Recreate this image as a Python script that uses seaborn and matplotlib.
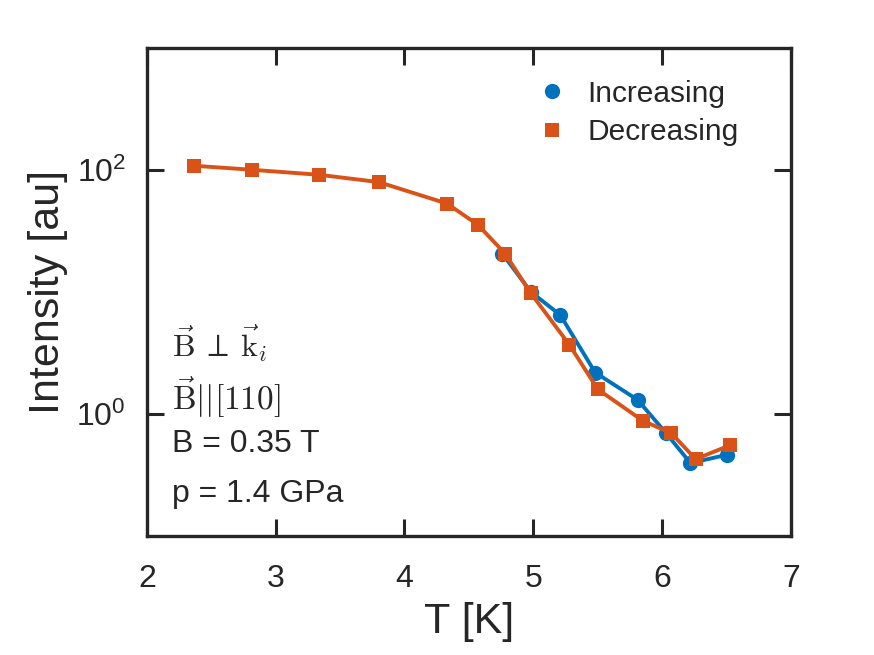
import numpy as np
import pandas as pd
import matplotlib
matplotlib.use('Agg')
import matplotlib.pyplot as plt
from matplotlib.lines import Line2D
from matplotlib.ticker import FixedLocator, NullLocator
import seaborn as sns

# data
T_inc = [4.76, 4.98, 5.21, 5.48, 5.81, 6.03, 6.22, 6.50]
I_inc = [20.5, 10.0, 6.44, 2.18, 1.30, 0.695, 0.394, 0.461]

T_dec = [2.37, 2.82, 3.34, 3.80, 4.33, 4.57, 4.78, 4.98, 5.28, 5.50, 5.85, 6.07, 6.26, 6.53]
I_dec = [107.9, 100.0, 91.0, 79.3, 52.9, 35.4, 20.6, 9.76, 3.68, 1.59, 0.877, 0.695, 0.425, 0.554]

labels = ['Increasing', 'Decreasing']
colors = {'Increasing': '#0072BD', 'Decreasing': '#D95319'}
markers = {'Increasing': 'o', 'Decreasing': 's'}
msize = {'Increasing': 11, 'Decreasing': 10.5}

df = pd.concat([
    pd.DataFrame({'T': T_inc, 'I': I_inc, 'sweep': labels[0]}),
    pd.DataFrame({'T': T_dec, 'I': I_dec, 'sweep': labels[1]}),
], ignore_index=True)

sns.set_style('ticks')
plt.rcParams['font.family'] = ['Liberation Sans', 'DejaVu Sans']
plt.rcParams['mathtext.fontset'] = 'cm'

fig = plt.figure(figsize=(8.74, 6.55), dpi=100)
ax = fig.add_axes([0.168, 0.182, 0.737, 0.745])

for lab in labels:
    sub = df[df['sweep'] == lab]
    sns.lineplot(data=sub, x='T', y='I', ax=ax, color=colors[lab], marker=markers[lab],
                 markersize=msize[lab], markeredgewidth=0,
                 linewidth=2.8, sort=False, legend=False, estimator=None)

ax.set_yscale('log')
ax.set_xlim(2, 7)
ax.set_ylim(0.1, 1000)
ax.xaxis.set_major_locator(FixedLocator([2, 3, 4, 5, 6, 7]))
ax.yaxis.set_major_locator(FixedLocator([1, 100]))
ax.yaxis.set_minor_locator(NullLocator())
ax.set_yticklabels([r'$\mathdefault{10^{0}}$', r'$\mathdefault{10^{2}}$'])

ax.tick_params(axis='both', which='major', direction='in', length=12, width=2.2,
               top=True, right=True, labelsize=23, labelcolor='#262626', color='#262626')
ax.tick_params(axis='x', pad=20)
ax.tick_params(axis='y', pad=15)
for sp in ax.spines.values():
    sp.set_linewidth(2.4)
    sp.set_color('#262626')

ax.set_xlabel('T [K]', fontsize=31, labelpad=6)
ax.set_ylabel('Intensity [au]', fontsize=31, labelpad=6)

handles = [Line2D([], [], color=colors[l], marker=markers[l], linestyle='none',
                  markersize=msize[l], markeredgewidth=0) for l in labels]
ax.legend(handles, labels, loc='upper left', bbox_to_anchor=(0.564, 0.99), frameon=False,
          fontsize=21.5, handlelength=1.0, handletextpad=0.68, labelspacing=0.35)

ax.text(0.039, 0.367, r'$\vec{\mathrm{B}}\:\perp\:\vec{\mathrm{k}}_i$', transform=ax.transAxes,
        fontsize=23, va='baseline')
ax.text(0.039, 0.258, r'$\vec{\mathrm{B}}||[110]$', transform=ax.transAxes,
        fontsize=24, va='baseline')
ax.text(0.039, 0.172, 'B = 0.35 T', transform=ax.transAxes, fontsize=23, va='baseline')
ax.text(0.039, 0.070, 'p = 1.4 GPa', transform=ax.transAxes, fontsize=23, va='baseline')

fig.savefig('out.png', dpi=100)
